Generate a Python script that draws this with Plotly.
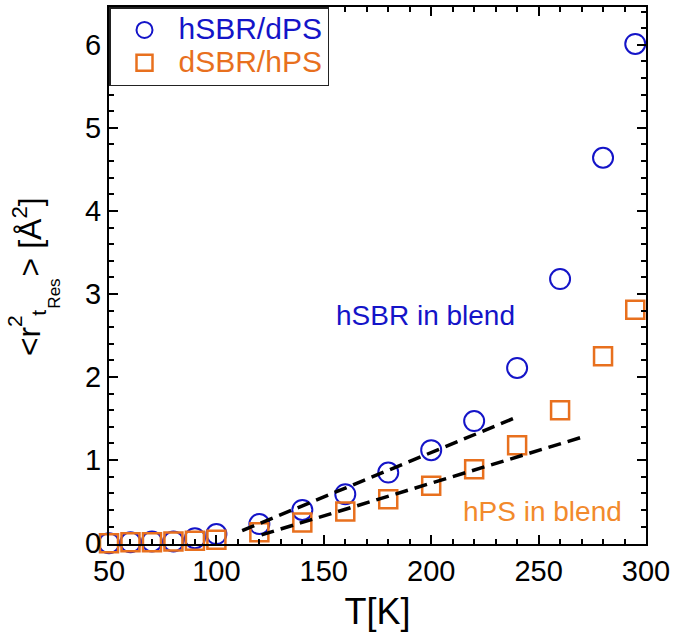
import plotly.graph_objects as go

# ---- data ----
T = [50, 60, 70, 80, 90, 100, 120, 140, 160, 180, 200, 220, 240, 260, 280, 295]
hsbr_dps = [0.00, 0.01, 0.02, 0.02, 0.06, 0.11, 0.23, 0.40, 0.59, 0.85, 1.12, 1.47, 2.11, 3.18, 4.64, 6.01]
dsbr_hps = [0.00, 0.01, 0.01, 0.02, 0.03, 0.04, 0.13, 0.25, 0.38, 0.53, 0.69, 0.89, 1.18, 1.60, 2.25, 2.81]
fit_hsbr_T = [112, 241]
fit_hsbr_y = [0.15, 1.53]
fit_hps_T = [121, 272]
fit_hps_y = [0.10, 1.29]
x_ticks = [50, 100, 150, 200, 250, 300]
y_ticks = [0, 1, 2, 3, 4, 5, 6]
series_names = ["hSBR/dPS", "dSBR/hPS"]

BLUE = "#1414C8"
ORANGE = "#E8701E"
ORANGE_TXT = "#F28A2C"
FONT = "Liberation Sans, Arial, sans-serif"


def legend_label(name, color):
    return f'<span style="font-size:30px;color:{color}">{name}</span>'


fig = go.Figure()
fig.add_trace(go.Scatter(x=T, y=hsbr_dps, mode="markers", name=legend_label(series_names[0], BLUE),
                         cliponaxis=False,
                         marker=dict(symbol="circle-open", size=20, color=BLUE, line=dict(width=2, color=BLUE))))
fig.add_trace(go.Scatter(x=T, y=dsbr_hps, mode="markers", name=legend_label(series_names[1], ORANGE),
                         cliponaxis=False,
                         marker=dict(symbol="square-open", size=18, color=ORANGE, line=dict(width=2.5, color=ORANGE))))
for fx, fy in [(fit_hsbr_T, fit_hsbr_y), (fit_hps_T, fit_hps_y)]:
    fig.add_trace(go.Scatter(x=fx, y=fy, mode="lines", showlegend=False, hoverinfo="skip",
                             line=dict(color="black", width=3.5, dash="13px,7px")))

axis_common = dict(
    showgrid=False, zeroline=False, showline=True, linecolor="black", linewidth=2,
    mirror="ticks", ticks="inside", ticklen=9, tickwidth=2, tickcolor="black",
    tickfont=dict(family=FONT, size=29, color="black"),
)
fig.update_xaxes(range=[50, 300], tickvals=x_ticks, **axis_common,
                 minor=dict(dtick=10, ticks="inside", ticklen=5, tickwidth=2, tickcolor="black"),
                 title=dict(text="T[K]", font=dict(family=FONT, size=36, color="black"), standoff=14))
fig.update_yaxes(range=[-0.01, 6.455], tickvals=y_ticks, **axis_common,
                 minor=dict(dtick=0.2, ticks="inside", ticklen=5, tickwidth=2, tickcolor="black"))

# y-axis title built from pieces (stacked super/subscript)
def px_x(px):
    return (px - 109) / 538.0


def px_y(py):
    return (544 - py) / 539.0


def rot_ann(text, size, baseline_x, center_y, extra_top=0.0):
    cx = baseline_x - 0.3465 * size - extra_top
    fig.add_annotation(text=text, textangle=-90, xref="paper", yref="paper",
                       x=px_x(cx), y=px_y(center_y), xanchor="center", yanchor="middle",
                       showarrow=False, font=dict(family=FONT, size=size, color="black"))


rot_ann("<r", 32, 40, 340.3)
rot_ann("2", 21, 21, 320.2)
rot_ann("t", 21, 46, 312.0)
rot_ann("Res", 17, 60, 292.5)
rot_ann("> [Å<sup>2</sup>]", 32, 40, 235.5, extra_top=2.3)

fig.add_annotation(text="hSBR in blend", x=197.3, y=2.74, showarrow=False,
                   font=dict(family=FONT, size=28, color=BLUE))
fig.add_annotation(text="hPS in blend", x=251.7, y=0.38, showarrow=False,
                   font=dict(family=FONT, size=28, color=ORANGE_TXT))

fig.update_layout(
    width=675, height=632,
    margin=dict(l=109, r=28, t=5, b=88),
    plot_bgcolor="white", paper_bgcolor="white",
    font=dict(family=FONT, color="black"),
    legend=dict(x=0, y=1, xanchor="left", yanchor="top",
                bgcolor="white", bordercolor="#222222", borderwidth=1.5,
                font=dict(family=FONT, size=23), itemwidth=58, tracegroupgap=0),
    showlegend=True,
)

fig.write_html("out.html", config={"displayModeBar": False},
               post_script="document.body.style.margin='0';")
